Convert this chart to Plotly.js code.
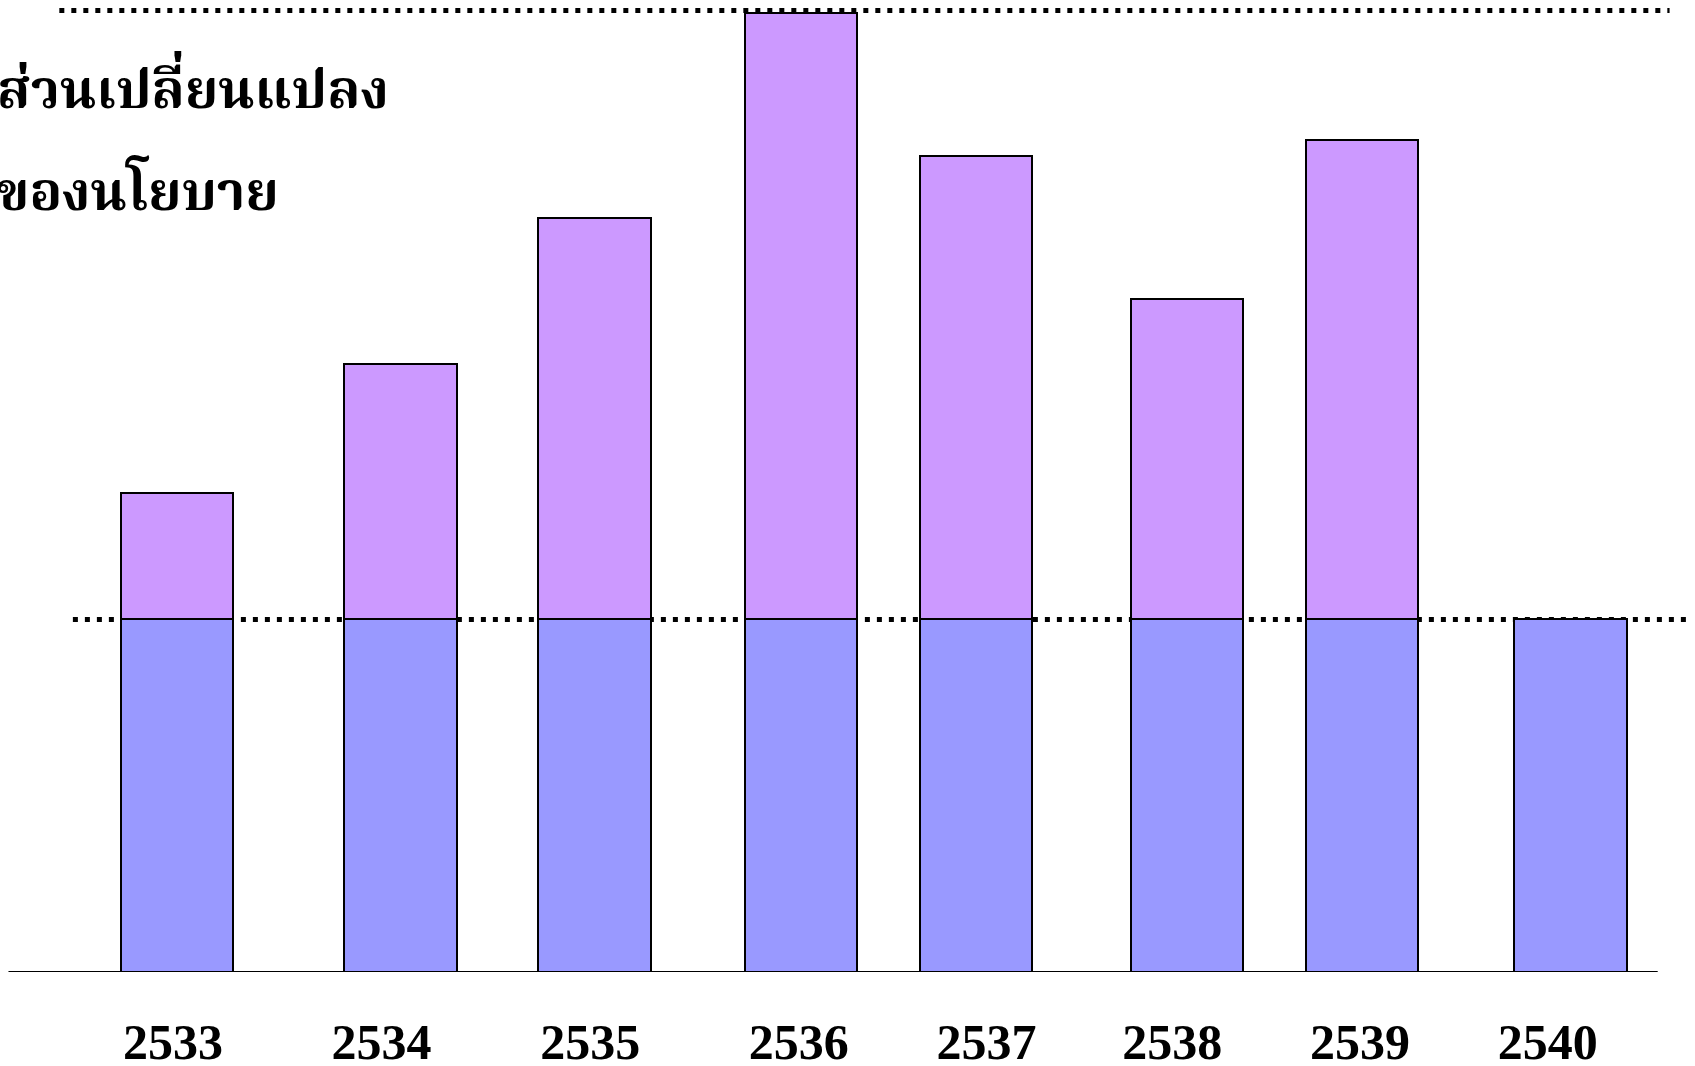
<!DOCTYPE html>
<html>
<head>
<meta charset="utf-8">
<script src="https://cdn.plot.ly/plotly-3.0.1.min.js"></script>
<style>html,body{margin:0;padding:0;background:#fff;}#chart{width:1695px;height:1066px;}</style>
</head>
<body>
<div id="chart"></div>
<script>
// Years (tick labels) and where they sit on the x axis
const years = ['2533', '2534', '2535', '2536', '2537', '2538', '2539', '2540'];
const tickPos = [2533, 2534, 2535, 2536, 2536.90, 2537.79, 2538.69, 2539.59];
// Bar positions on the x axis (bars are not evenly spaced in the original)
const barPos = [2533.02, 2534.09, 2535.02, 2536.01, 2536.85, 2537.86, 2538.70, 2539.70];
// Base policy level (blue) and policy change (purple), in relative units
const baseLevel = [100, 100, 100, 100, 100, 100, 100, 100];
const policyChange = [36, 72.5, 114, 172, 131.5, 91, 136, null];
// Reference levels drawn as dotted lines
const baseRef = 100;
const topRef = 272.7;
const titleLines = ['ส่วนเปลี่ยนแปลง', 'ของนโยบาย'];

const thaiFont = '"Noto Serif Thai", "Noto Sans Thai", "Tlwg Typo", Loma, Garuda, "Liberation Serif", serif';

const traces = [
  {
    type: 'bar', x: barPos, y: baseLevel, width: 0.539,
    marker: {color: '#9999FF', line: {color: '#000000', width: 2}},
    hoverinfo: 'skip', showlegend: false
  },
  {
    type: 'bar', x: barPos, y: policyChange, width: 0.539,
    marker: {color: '#CC99FF', line: {color: '#000000', width: 2}},
    hoverinfo: 'skip', showlegend: false
  }
];

const layout = {
  width: 1695, height: 1066,
  margin: {l: 0, r: 0, t: 0, b: 94, pad: 0},
  paper_bgcolor: '#ffffff', plot_bgcolor: 'rgba(0,0,0,0)',
  barmode: 'stack',
  showlegend: false,
  xaxis: {
    range: [2532.171, 2540.296], fixedrange: true,
    showgrid: false, zeroline: false, showline: false,
    tickmode: 'array', tickvals: tickPos, ticktext: years,
    ticks: '', ticklabelstandoff: 36,
    tickfont: {family: '"Liberation Serif", "Times New Roman", serif', size: 50, color: '#000', weight: 'bold'}
  },
  yaxis: {
    range: [0, 275.7], fixedrange: true,
    showgrid: false, zeroline: false, showline: false, showticklabels: false, ticks: ''
  },
  shapes: [
    {type: 'line', xref: 'paper', yref: 'y', x0: 0.035, x1: 0.985, y0: topRef, y1: topRef,
     line: {color: '#000', width: 5, dash: '5px,7px'}, layer: 'below'},
    {type: 'line', xref: 'paper', yref: 'y', x0: 0.043, x1: 0.995, y0: baseRef, y1: baseRef,
     line: {color: '#000', width: 5, dash: '5px,7px'}, layer: 'below'},
    {type: 'line', xref: 'paper', yref: 'y', x0: 0.005, x1: 0.978, y0: 0, y1: 0,
     line: {color: '#000', width: 2}, layer: 'above'}
  ],
  annotations: titleLines.map((t, i) => ({
    text: '<b>' + t + '</b>', xref: 'paper', yref: 'paper',
    x: -0.003, y: i === 0 ? 0.904 : 0.798, xanchor: 'left', yanchor: 'middle',
    showarrow: false, font: {family: thaiFont, size: 54, color: '#000'}
  }))
};

Plotly.newPlot('chart', traces, layout, {staticPlot: true, displayModeBar: false});
</script>
</body>
</html>
